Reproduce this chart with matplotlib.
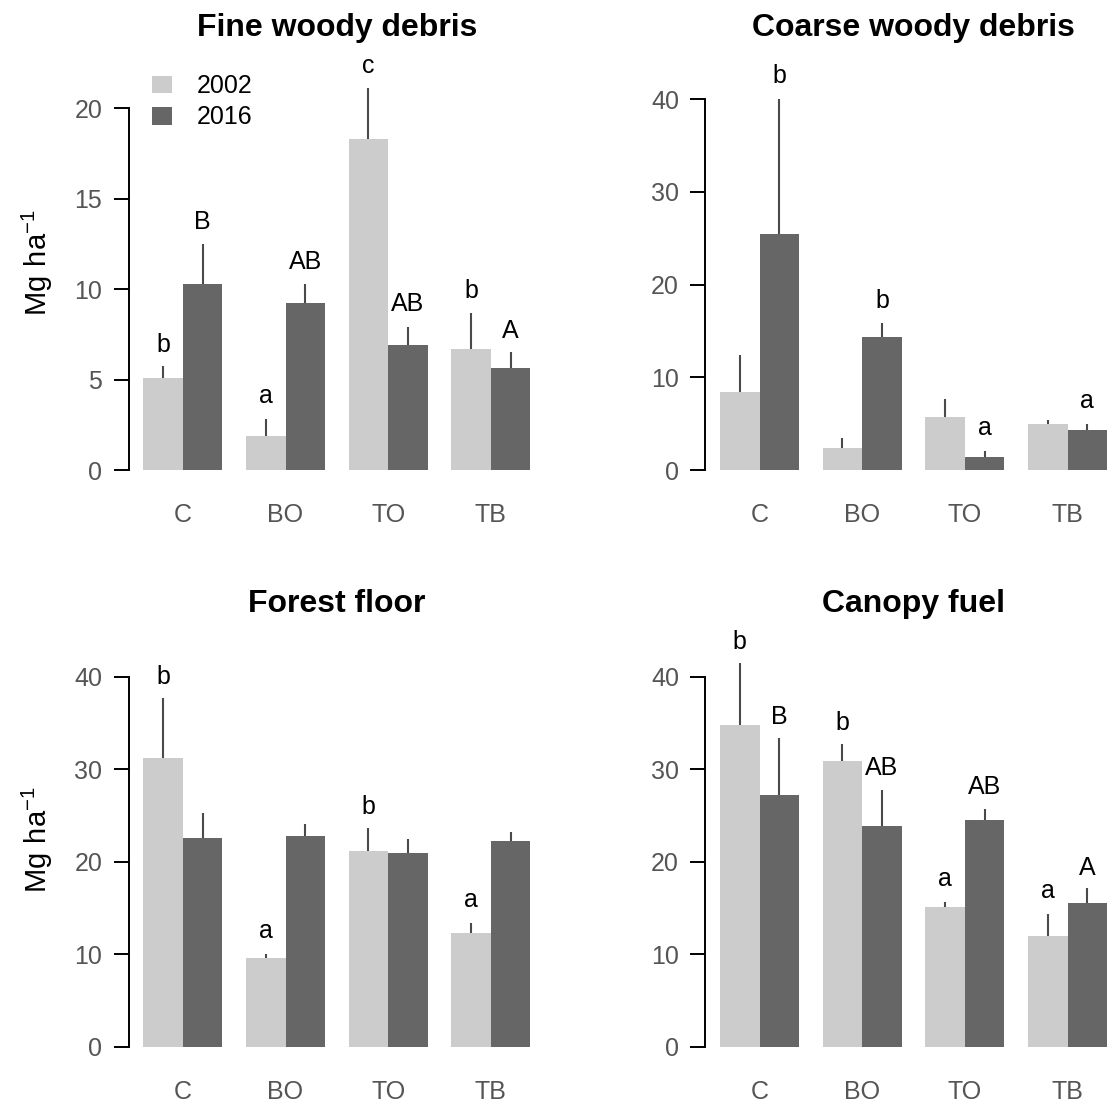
import matplotlib

matplotlib.use("Agg")
import matplotlib.pyplot as plt
import numpy as np

plt.rcParams["font.family"] = ["Liberation Sans", "DejaVu Sans"]
plt.rcParams["mathtext.fontset"] = "custom"
plt.rcParams["mathtext.rm"] = "Liberation Sans"

W, H = 1108, 1105

sites = ["C", "BO", "TO", "TB"]
years = ["2002", "2016"]

# Fine woody debris
fwd_2002 = [5.10, 1.90, 18.32, 6.67]
fwd_2016 = [10.28, 9.23, 6.91, 5.62]
fwd_se_2002 = [0.65, 0.90, 2.82, 2.03]
fwd_se_2016 = [2.21, 1.07, 1.01, 0.89]
fwd_let_2002 = ["b", "a", "c", "b"]
fwd_let_2016 = ["B", "AB", "AB", "A"]
fwd_lety_2002 = [6.52, 3.70, 21.95, 9.51]
fwd_lety_2016 = [13.34, 11.13, 8.77, 7.30]

# Coarse woody debris
cwd_2002 = [8.45, 2.34, 5.72, 4.93]
cwd_2016 = [25.43, 14.35, 1.37, 4.28]
cwd_se_2002 = [3.96, 1.08, 1.91, 0.47]
cwd_se_2016 = [14.57, 1.55, 0.72, 0.68]
cwd_let_2002 = ["", "", "", ""]
cwd_let_2016 = ["b", "b", "a", "a"]
cwd_lety_2002 = [0, 0, 0, 0]
cwd_lety_2016 = [41.7, 17.48, 3.81, 6.69]

# Forest floor
ff_2002 = [31.24, 9.59, 21.19, 12.32]
ff_2016 = [22.52, 22.74, 20.90, 22.23]
ff_se_2002 = [6.49, 0.39, 2.49, 1.09]
ff_se_2016 = [2.78, 1.37, 1.51, 0.98]
ff_let_2002 = ["b", "a", "b", "a"]
ff_let_2016 = ["", "", "", ""]
ff_lety_2002 = [39.24, 11.75, 25.19, 15.10]
ff_lety_2016 = [0, 0, 0, 0]

# Canopy fuel
cf_2002 = [34.81, 30.92, 15.10, 11.96]
cf_2016 = [27.21, 23.86, 24.54, 15.53]
cf_se_2002 = [6.70, 1.76, 0.50, 2.38]
cf_se_2016 = [6.12, 3.89, 1.19, 1.59]
cf_let_2002 = ["b", "b", "a", "a"]
cf_let_2016 = ["B", "AB", "AB", "A"]
cf_lety_2002 = [43.03, 34.27, 17.33, 16.07]
cf_lety_2016 = [34.92, 29.33, 27.35, 18.59]

panels = [
    ("Fine woody debris", fwd_2002, fwd_2016, fwd_se_2002, fwd_se_2016,
     fwd_let_2002, fwd_let_2016, fwd_lety_2002, fwd_lety_2016, [0, 5, 10, 15, 20]),
    ("Coarse woody debris", cwd_2002, cwd_2016, cwd_se_2002, cwd_se_2016,
     cwd_let_2002, cwd_let_2016, cwd_lety_2002, cwd_lety_2016, [0, 10, 20, 30, 40]),
    ("Forest floor", ff_2002, ff_2016, ff_se_2002, ff_se_2016,
     ff_let_2002, ff_let_2016, ff_lety_2002, ff_lety_2016, [0, 10, 20, 30, 40]),
    ("Canopy fuel", cf_2002, cf_2016, cf_se_2002, cf_se_2016,
     cf_let_2002, cf_let_2016, cf_lety_2002, cf_lety_2016, [0, 10, 20, 30, 40]),
]

LIGHT = "#cccccc"
DARK = "#666666"
ERR = "#4a4a4a"
TICK_GRAY = "#555555"
FS = 18

# layout in pixels: (axes left, axis zero y) and pixels per data unit
UNIT = 39.5
XLIM = (-1.37, 9.17)
AX_H = 430
origins = [(128.7, 470.0), (705.4, 470.0), (128.7, 1046.7), (705.4, 1046.7)]
px_per_y = [18.09, 9.27, 9.25, 9.25]

fig = plt.figure(figsize=(W / 100, H / 100), dpi=100)

centers = np.arange(len(sites)) * 2.6

for i, (title, v02, v16, se02, se16, l02, l16, ly02, ly16, yticks) in enumerate(panels):
    left, zero = origins[i]
    ax_w = (XLIM[1] - XLIM[0]) * UNIT
    ax = fig.add_axes([left / W, 1 - zero / H, ax_w / W, AX_H / H])
    ax.set_xlim(*XLIM)
    ax.set_ylim(0, AX_H / px_per_y[i])

    x02 = centers - 0.5
    x16 = centers + 0.5
    ax.bar(x02, v02, width=1.0, color=LIGHT, edgecolor="none", label=years[0])
    ax.bar(x16, v16, width=1.0, color=DARK, edgecolor="none", label=years[1])
    ax.vlines(x02, v02, np.add(v02, se02), color=ERR, lw=1.5)
    ax.vlines(x16, v16, np.add(v16, se16), color=ERR, lw=1.5)

    for x, s, y in zip(x02, l02, ly02):
        if s:
            ax.text(x, y, s, ha="center", va="baseline", fontsize=FS, color="black")
    for x, s, y in zip(x16, l16, ly16):
        if s:
            ax.text(x, y, s, ha="center", va="baseline", fontsize=FS, color="black")

    for side in ["top", "right", "bottom"]:
        ax.spines[side].set_visible(False)
    ax.spines["left"].set_bounds(yticks[0], yticks[-1])
    ax.spines["left"].set_linewidth(1.4)
    ax.set_yticks(yticks)
    ax.tick_params(axis="y", direction="out", length=11, width=1.4,
                   pad=8, labelsize=FS, labelcolor=TICK_GRAY)
    ax.set_xticks(centers)
    ax.set_xticklabels(sites)
    ax.tick_params(axis="x", length=0, pad=24, labelsize=FS, labelcolor=TICK_GRAY)
    ax.patch.set_visible(False)

    cx = (left + ax_w / 2) / W
    ty = 36 if i < 2 else 612
    fig.text(cx, 1 - ty / H, title, ha="center", va="baseline",
             fontsize=23, fontweight="bold")

    if i == 0:
        ax.legend(loc="upper left", bbox_to_anchor=(152 / W, 1 - 74 / H),
                  bbox_transform=fig.transFigure, frameon=False, fontsize=FS,
                  handlelength=0.78, handleheight=0.7, handletextpad=1.0,
                  labelspacing=0.3, borderpad=0, borderaxespad=0)

fig.text(37 / W, 1 - 263 / H, r"$\mathregular{Mg\ ha^{-1}}$", rotation=90,
         ha="center", va="center", fontsize=21)
fig.text(37 / W, 1 - 840 / H, r"$\mathregular{Mg\ ha^{-1}}$", rotation=90,
         ha="center", va="center", fontsize=21)

fig.savefig("out.png", dpi=100)
